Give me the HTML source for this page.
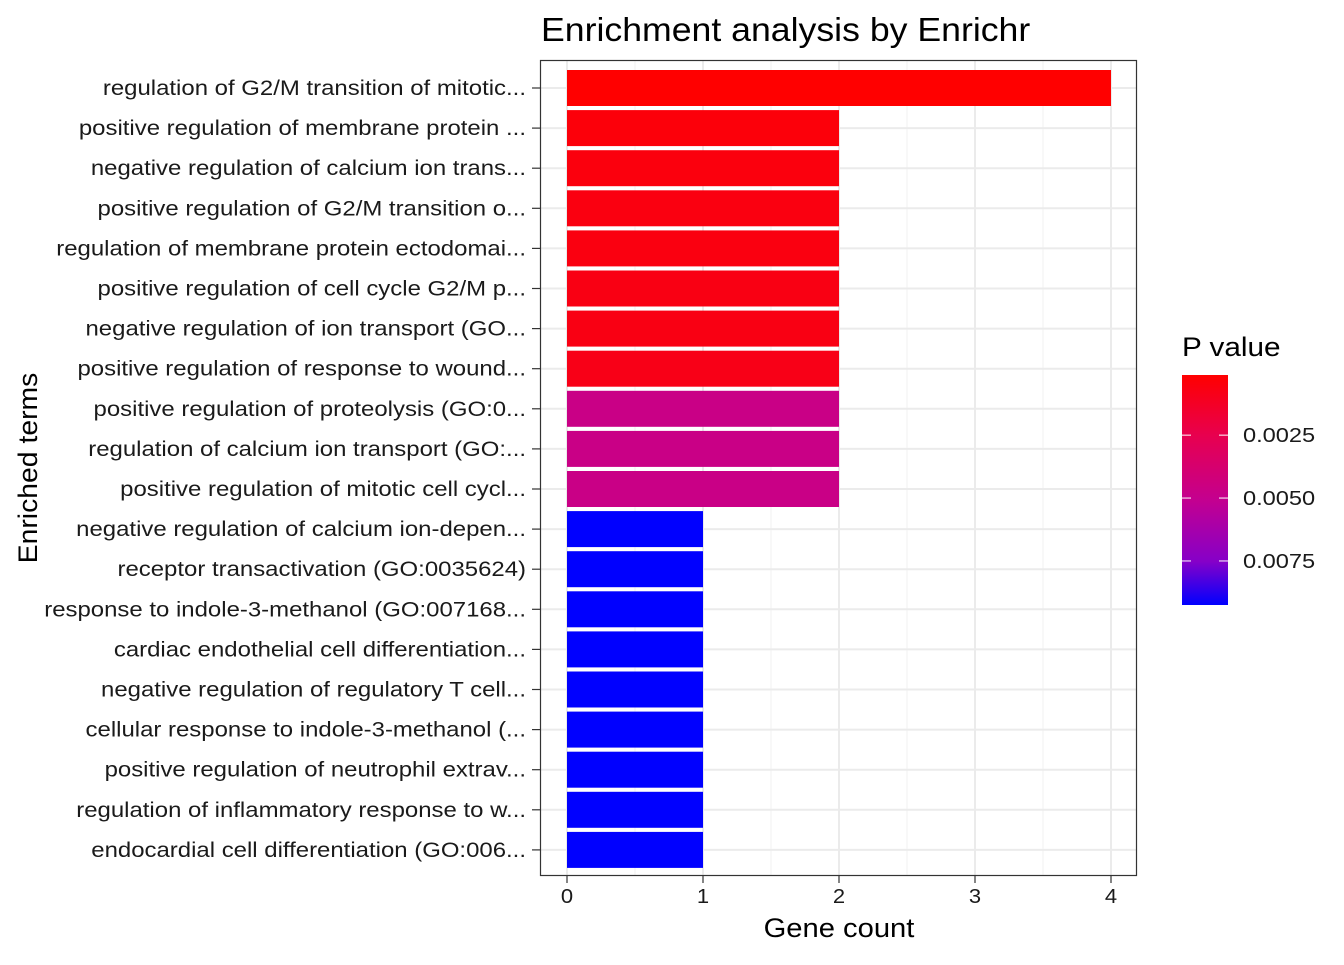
<!DOCTYPE html>
<html><head><meta charset="utf-8"><style>
body{margin:0;background:#fff}
svg text{font-family:"Liberation Sans",sans-serif}
</style></head><body>
<svg id="c" width="1344" height="960" xmlns="http://www.w3.org/2000/svg">
<defs><linearGradient id="g" x1="0" y1="0" x2="0" y2="1">
<stop offset="0" stop-color="#FF0000"/><stop offset="0.26" stop-color="#E8004E"/><stop offset="0.54" stop-color="#C4008F"/><stop offset="0.81" stop-color="#8600C8"/><stop offset="1" stop-color="#0000FF"/>
</linearGradient></defs>
</svg>
<script>
const terms=["regulation of G2/M transition of mitotic...","positive regulation of membrane protein ...","negative regulation of calcium ion trans...","positive regulation of G2/M transition o...","regulation of membrane protein ectodomai...","positive regulation of cell cycle G2/M p...","negative regulation of ion transport (GO...","positive regulation of response to wound...","positive regulation of proteolysis (GO:0...","regulation of calcium ion transport (GO:...","positive regulation of mitotic cell cycl...","negative regulation of calcium ion-depen...","receptor transactivation (GO:0035624)","response to indole-3-methanol (GO:007168...","cardiac endothelial cell differentiation...","negative regulation of regulatory T cell...","cellular response to indole-3-methanol (...","positive regulation of neutrophil extrav...","regulation of inflammatory response to w...","endocardial cell differentiation (GO:006..."];
const counts=[4,2,2,2,2,2,2,2,2,2,2,1,1,1,1,1,1,1,1,1];
const pvals=[0.00011,0.0004,0.0005,0.0006,0.0006,0.0007,0.0007,0.0008,0.0047,0.0047,0.0047,0.00925,0.00925,0.00925,0.00925,0.00925,0.00925,0.00925,0.00925,0.00925];
const xTicks=[0,1,2,3,4];
const pTicks=[0.0025,0.005,0.0075];
const pTickLabels=["0.0025","0.0050","0.0075"];
const pMin=0.00011,pMax=0.00925;
const svg=document.getElementById('c');const NS="http://www.w3.org/2000/svg";
function el(t,a,p){const e=document.createElementNS(NS,t);for(const k in a)e.setAttribute(k,a[k]);(p||svg).appendChild(e);return e;}
function stretch(e,f){const w=e.getComputedTextLength();e.setAttribute('textLength',w*f);e.setAttribute('lengthAdjust','spacingAndGlyphs');}
const X=v=>567+v*136, Y=i=>88+i*40.1;
const stops=[[0,[255,0,0]],[0.26,[232,0,78]],[0.54,[196,0,143]],[0.81,[134,0,200]],[1,[0,0,255]]];
function col(p){let t=(p-pMin)/(pMax-pMin);t=Math.max(0,Math.min(1,t));for(let i=1;i<stops.length;i++){if(t<=stops[i][0]){const a=stops[i-1],b=stops[i];const f=(t-a[0])/(b[0]-a[0]);return 'rgb('+a[1].map((v,j)=>Math.round(v+(b[1][j]-v)*f)).join(',')+')';}}return 'rgb(0,0,255)';}
el('rect',{x:540,y:60,width:597,height:816,fill:'#fff'});
for(let v=0.5;v<4.5;v+=1){const l=el('line',{x1:X(v),x2:X(v),y1:60,y2:876,stroke:'#f2f2f2','stroke-width':1});}
xTicks.forEach(v=>{const l=el('line',{x1:X(v),x2:X(v),y1:60,y2:876,stroke:'#ebebeb','stroke-width':2});});
terms.forEach((t,i)=>{const l=el('line',{x1:540,x2:1137,y1:Y(i),y2:Y(i),stroke:'#ebebeb','stroke-width':2});});
counts.forEach((c,i)=>{const r=el('rect',{x:X(0),y:Y(i)-18,width:X(c)-X(0),height:36,fill:col(pvals[i])});});
const fr=el('rect',{x:540.5,y:60.5,width:596,height:815,fill:'none',stroke:'#333','stroke-width':1.2});
terms.forEach((t,i)=>{el('line',{x1:532,x2:540,y1:Y(i),y2:Y(i),stroke:'#333','stroke-width':1.2});const tx=el('text',{x:526,y:Y(i)+7,'text-anchor':'end','font-size':21,fill:'#1a1a1a'});tx.textContent=t;stretch(tx,1.14);});
xTicks.forEach(v=>{el('line',{x1:X(v),x2:X(v),y1:876,y2:883,stroke:'#333','stroke-width':1.2});const tx=el('text',{x:X(v),y:903,'text-anchor':'middle','font-size':20,fill:'#1a1a1a'});tx.textContent=v;stretch(tx,1.1);});
let t=el('text',{x:839,y:937,'text-anchor':'middle','font-size':27});t.textContent='Gene count';stretch(t,1.08);
t=el('text',{x:0,y:0,'text-anchor':'middle','font-size':27,transform:'translate(37,468) rotate(-90)'});t.textContent='Enriched terms';stretch(t,1.05);
t=el('text',{x:541,y:41,'font-size':33});t.textContent='Enrichment analysis by Enrichr';stretch(t,1.08);
t=el('text',{x:1182,y:356,'font-size':27});t.textContent='P value';stretch(t,1.1);
const cb=el('rect',{x:1182,y:375,width:46,height:230,fill:'url(#g)'});
const PY=p=>375+(p-pMin)/(pMax-pMin)*230;
pTicks.forEach((p,i)=>{el('line',{x1:1182,x2:1191,y1:PY(p),y2:PY(p),stroke:'#fff','stroke-width':1});el('line',{x1:1219,x2:1228,y1:PY(p),y2:PY(p),stroke:'#fff','stroke-width':1});const tx=el('text',{x:1243,y:PY(p)+7,'font-size':20,fill:'#1a1a1a'});tx.textContent=pTickLabels[i];stretch(tx,1.18);});
</script>
</body></html>
